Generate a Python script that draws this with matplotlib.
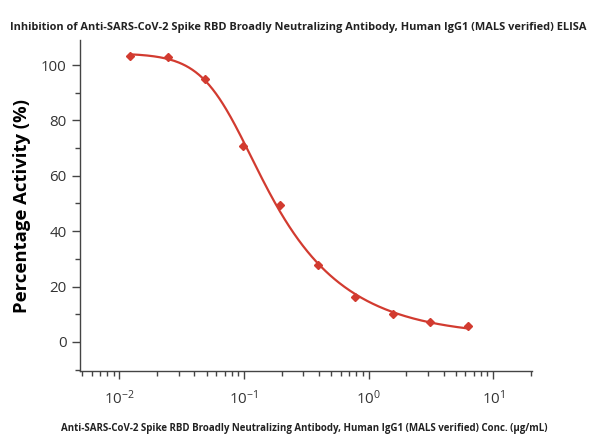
import numpy as np
import matplotlib
matplotlib.use('Agg')
from matplotlib import pyplot as plt
from matplotlib.ticker import LogLocator, NullFormatter, MultipleLocator

# data
conc = [0.0122, 0.0244, 0.0488, 0.0977, 0.195, 0.391, 0.781, 1.5625, 3.125, 6.25]
activity = [103.3, 102.9, 95.0, 70.7, 49.6, 27.9, 16.3, 10.1, 7.2, 5.8]

x = np.array(conc)
y = np.array(activity)

# 5PL fit: grid over ec50 / hill / asymmetry, linear solve for bottom / span
c_grid = np.logspace(np.log10(0.03), np.log10(0.6), 70)
b_grid = np.linspace(0.6, 4.0, 70)
g_grid = np.linspace(0.2, 3.0, 50)
C, B, G = np.meshgrid(c_grid, b_grid, g_grid, indexing='ij')
C, B, G = C.ravel(), B.ravel(), G.ravel()
F = 1.0 / (1.0 + (x[None, :] / C[:, None]) ** B[:, None]) ** G[:, None]
fm = F.mean(axis=1)
ym = y.mean()
cov = ((F - fm[:, None]) * (y - ym)).sum(axis=1)
var = ((F - fm[:, None]) ** 2).sum(axis=1)
span = cov / var
bottom = ym - span * fm
err = ((bottom[:, None] + span[:, None] * F - y) ** 2).sum(axis=1)
k = np.argmin(err)
xs = np.logspace(np.log10(x.min()), np.log10(x.max()), 300)
ys = bottom[k] + span[k] / (1.0 + (xs / C[k]) ** B[k]) ** G[k]

plt.rcParams['font.family'] = ['Open Sans', 'DejaVu Sans']
red = '#d23b30'
axcol = '#444444'

fig = plt.figure(figsize=(5.91, 4.36), dpi=100)
ax = fig.add_axes([0.135, 0.149, 0.765, 0.759])

ax.plot(xs, ys, color=red, lw=1.6, zorder=2)
ax.plot(x, y, 'D', color=red, ms=4.5, zorder=3)

ax.set_xscale('log')
ax.set_xlim(0.0048, 20.5)
ax.set_ylim(-10.5, 109)
ax.yaxis.set_major_locator(MultipleLocator(20))
ax.yaxis.set_minor_locator(MultipleLocator(10))
ax.xaxis.set_major_locator(LogLocator(base=10, numticks=10))
ax.xaxis.set_minor_locator(LogLocator(base=10, subs=np.arange(2, 10), numticks=10))
ax.xaxis.set_minor_formatter(NullFormatter())

for s in ['top', 'right']:
    ax.spines[s].set_visible(False)
for s in ['left', 'bottom']:
    ax.spines[s].set_color(axcol)
    ax.spines[s].set_linewidth(1.0)
ax.tick_params(which='major', length=6, width=1, color=axcol, labelsize=10.8, labelcolor='#333333')
ax.tick_params(which='minor', length=3.5, width=1, color=axcol)
ax.tick_params(axis='x', pad=7)

ax.set_ylabel('Percentage Activity (%)', fontsize=13.3, fontweight='bold', labelpad=7)

fig.text(0.505, 0.936, 'Inhibition of Anti-SARS-CoV-2 Spike RBD Broadly Neutralizing Antibody, Human IgG1 (MALS verified) ELISA',
         ha='center', va='center', fontsize=7.9, fontweight='bold', color='#222222')
fig.text(0.515, 0.004, 'Anti-SARS-CoV-2 Spike RBD Broadly Neutralizing Antibody, Human IgG1 (MALS verified) Conc. (\u03bcg/mL)',
         ha='center', va='bottom', fontsize=7.0, fontweight='bold', color='#222222')

plt.savefig('out.png', dpi=100)
